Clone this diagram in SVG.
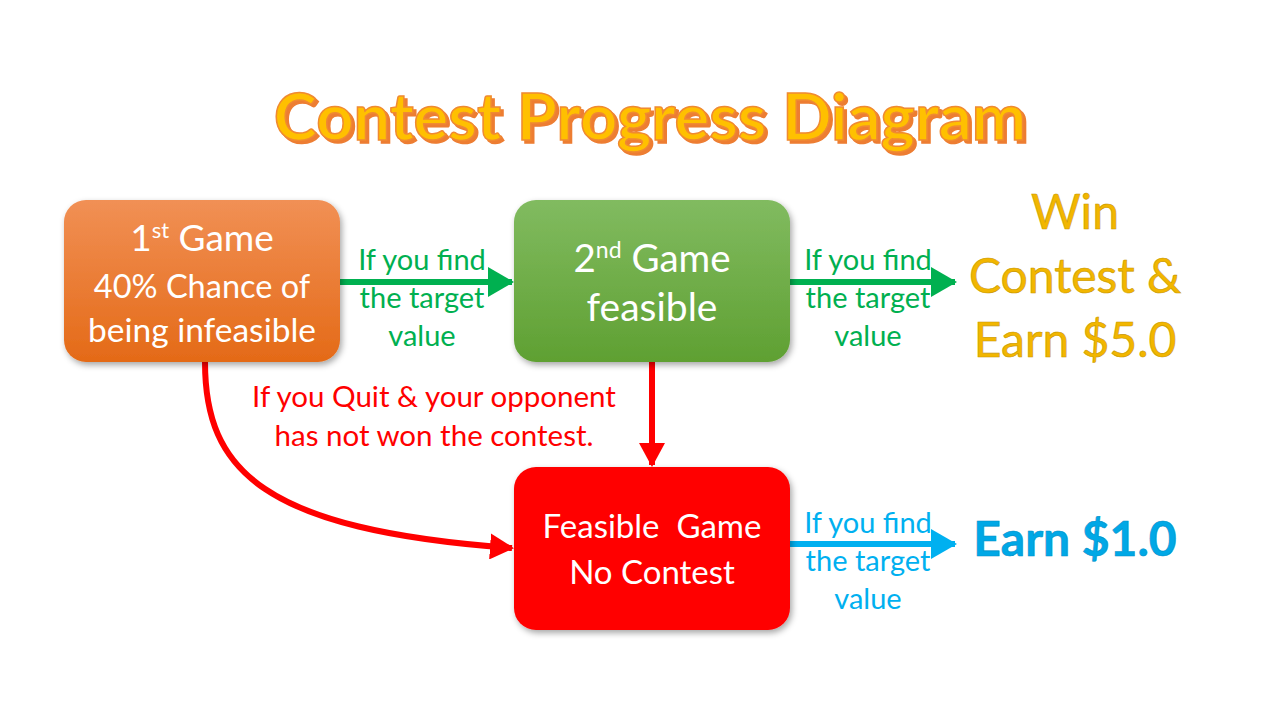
<svg xmlns="http://www.w3.org/2000/svg" width="1280" height="720" viewBox="0 0 1280 720">
<defs>
<style>
text{font-family:Lato,"Open Sans","Liberation Sans",sans-serif;text-anchor:middle}
.w{fill:#fff}
.lg{fill:#00B050;font-size:29px}
.lb{fill:#00B0F0;font-size:29px}
.lr{fill:#FF0000;font-size:29.5px}
.gold{fill:#F2B600;stroke:#C99700;stroke-width:0.6;font-size:48px}
</style>
<linearGradient id="og" x1="0" y1="0" x2="0" y2="1"><stop offset="0" stop-color="#F19055"/><stop offset="1" stop-color="#E46A17"/></linearGradient>
<linearGradient id="gg" x1="0" y1="0" x2="0" y2="1"><stop offset="0" stop-color="#81BB60"/><stop offset="1" stop-color="#5FA032"/></linearGradient>
<filter id="sh" x="-10%" y="-10%" width="125%" height="130%"><feDropShadow dx="2" dy="3" stdDeviation="3" flood-color="#000" flood-opacity="0.35"/></filter>
<filter id="tsh" x="-5%" y="-20%" width="110%" height="150%"><feDropShadow dx="3" dy="3" stdDeviation="0.6" flood-color="#ED7D31" flood-opacity="1"/></filter>
<marker id="ag" markerUnits="userSpaceOnUse" markerWidth="26" markerHeight="30" refX="24" refY="15" orient="auto"><path d="M0,0 L26,15 L0,30 Z" fill="#00B050"/></marker>
<marker id="ab" markerUnits="userSpaceOnUse" markerWidth="26" markerHeight="30" refX="24" refY="15" orient="auto"><path d="M0,0 L26,15 L0,30 Z" fill="#00B0F0"/></marker>
<marker id="ar" markerUnits="userSpaceOnUse" markerWidth="24" markerHeight="26" refX="22" refY="13" orient="auto"><path d="M0,0 L24,13 L0,26 Z" fill="#FF0000"/></marker>
</defs>
<rect width="1280" height="720" fill="#fff"/>
<g id="title">
<text x="650" y="140" font-weight="bold" font-size="65" fill="#FFC000" stroke="#F08A30" stroke-width="1.5" filter="url(#tsh)">Contest Progress Diagram</text>
</g>
<g id="connectors" fill="none">
<path d="M340,282 L512,282" stroke="#00B050" stroke-width="6" marker-end="url(#ag)"/>
<path d="M790,282 L955,282" stroke="#00B050" stroke-width="6" marker-end="url(#ag)"/>
<path d="M790,544 L955,544" stroke="#00B0F0" stroke-width="6" marker-end="url(#ab)"/>
<path d="M652,362 L652,465" stroke="#FF0000" stroke-width="6" marker-end="url(#ar)"/>
<path d="M205,362 C205,470 262,530 512,548" stroke="#FF0000" stroke-width="6" marker-end="url(#ar)"/>
</g>
<g id="labels">
<text class="lg" x="422" y="270">If you find</text>
<text class="lg" x="422" y="308">the target</text>
<text class="lg" x="422" y="346">value</text>
<text class="lg" x="868" y="270">If you find</text>
<text class="lg" x="868" y="308">the target</text>
<text class="lg" x="868" y="346">value</text>
<text class="lb" x="868" y="533">If you find</text>
<text class="lb" x="868" y="571">the target</text>
<text class="lb" x="868" y="609">value</text>
<text class="lr" x="434" y="407">If you Quit &amp; your opponent</text>
<text class="lr" x="434" y="446">has not won the contest.</text>
</g>
<g id="node1">
<rect x="64" y="200" width="276" height="162" rx="22" fill="url(#og)" filter="url(#sh)"/>
<text class="w" x="202" y="251" font-size="37">1<tspan font-size="22" dy="-13">st</tspan><tspan dy="13"> Game</tspan></text>
<text class="w" x="202" y="298" font-size="32.5">40% Chance of</text>
<text class="w" x="202" y="342" font-size="33.5">being infeasible</text>
</g>
<g id="node2">
<rect x="514" y="200" width="276" height="162" rx="22" fill="url(#gg)" filter="url(#sh)"/>
<text class="w" x="652" y="272" font-size="38.5">2<tspan font-size="23" dy="-14">nd</tspan><tspan dy="14"> Game</tspan></text>
<text class="w" x="652" y="321" font-size="39">feasible</text>
</g>
<g id="node3">
<rect x="514" y="467" width="276" height="163" rx="22" fill="#FF0000" filter="url(#sh)"/>
<text class="w" x="652" y="538" font-size="33" xml:space="preserve">Feasible  Game</text>
<text class="w" x="652" y="584" font-size="33">No Contest</text>
</g>
<g id="win">
<text class="gold" x="1075" y="229">Win</text>
<text class="gold" x="1075" y="293">Contest &amp;</text>
<text class="gold" x="1075" y="357">Earn $5.0</text>
</g>
<g id="earn1">
<text x="1075" y="556" font-size="48" font-weight="bold" fill="#00A8E6" stroke="#0090C8" stroke-width="0.6">Earn $1.0</text>
</g>
</svg>
